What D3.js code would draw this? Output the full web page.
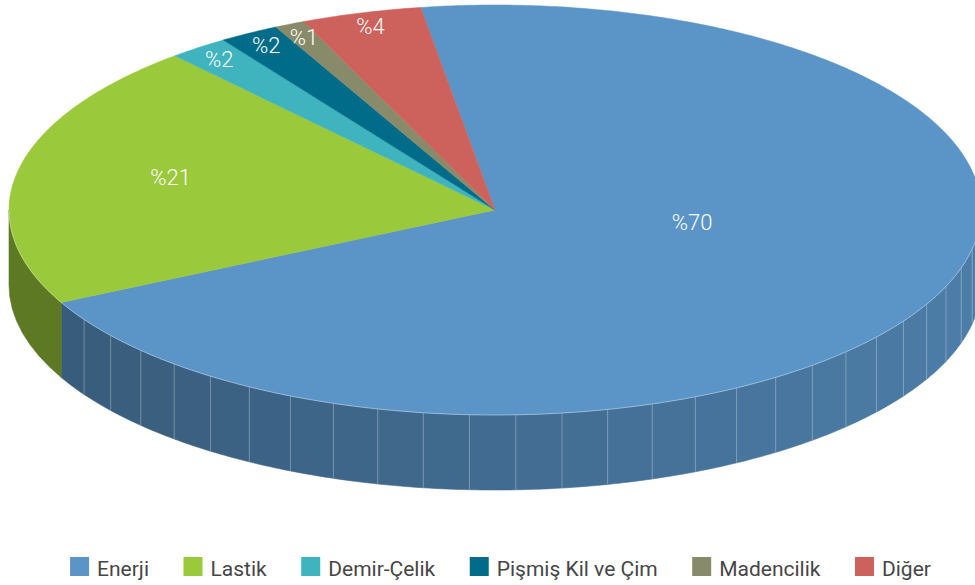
<!DOCTYPE html>
<meta charset="utf-8">
<style>
  body { margin: 0; background: #fff; }
  .label { font-family: Roboto, sans-serif; font-weight: 300; font-size: 22px; fill: #fff; }
  .legend text { font-family: Roboto, sans-serif; font-size: 21px; fill: #464646; }
</style>
<svg width="975" height="585"></svg>
<script src="https://cdn.jsdelivr.net/npm/d3@7"></script>
<script>
var categories = ["Enerji", "Lastik", "Demir-Çelik", "Pişmiş Kil ve Çim", "Madencilik", "Diğer"];
var values = [70, 21, 2, 2, 1, 4];
var labels = ["%70", "%21", "%2", "%2", "%1", "%4"];
var colors = ["#5b95c8", "#9bc93c", "#3fb4be", "#006c8a", "#878b6a", "#cc625b"];

var width = 975, height = 585;
var cx = 495, cy = 210, rx = 486, ry = 205, depth = 75;
var rad = Math.PI / 180;
var start = -8.8 * rad;

var svg = d3.select("svg");

var data = categories.map(function(c, i) {
  return { name: c, value: values[i], label: labels[i], color: colors[i] };
});

var pie = d3.pie()
    .sort(null)
    .value(function(d) { return d.value; })
    .startAngle(start)
    .endAngle(start + 2 * Math.PI);

var arcs = pie(data);

// point on the top ellipse, angle clockwise from 12 o'clock
function px(a, f) { return cx + rx * f * Math.sin(a); }
function py(a, f) { return cy - ry * f * Math.cos(a); }

function shade(c, a) {
  var k = 0.6 + 0.24 * (Math.sin(a) + 1) / 2;
  var r = d3.rgb(c);
  return d3.rgb(r.r * k, r.g * k, r.b * k).formatHex();
}

/* ---------- side walls (front half only) ---------- */
var step = 5.4 * rad;
var side = svg.append("g");
var seams = [];

arcs.forEach(function(d) {
  var a0 = Math.max(d.startAngle, Math.PI / 2),
      a1 = Math.min(d.endAngle, 3 * Math.PI / 2);
  if (a1 <= a0) return;
  var n = (a1 - a0) < 40 * rad ? 1 : Math.round((a1 - a0) / step);
  for (var i = 0; i < n; i++) {
    var t0 = a0 + (a1 - a0) * i / n,
        t1 = a0 + (a1 - a0) * (i + 1) / n;
    var pts = [];
    for (var j = 0; j <= 8; j++) {
      var t = t0 + (t1 - t0) * j / 8;
      pts.push([px(t, 1), py(t, 1)]);
    }
    for (j = 8; j >= 0; j--) {
      t = t0 + (t1 - t0) * j / 8;
      pts.push([px(t, 1), py(t, 1) + depth]);
    }
    var col = n === 1 ? shade(d.data.color, 3 * Math.PI / 2) : shade(d.data.color, (t0 + t1) / 2);
    side.append("path")
        .attr("d", "M" + pts.join("L") + "Z")
        .attr("fill", col)
        .attr("stroke", col)
        .attr("stroke-width", 0.6);
    if (i > 0) seams.push(t0);
  }
});

side.selectAll("line.seam")
  .data(seams)
  .enter()
  .append("line")
    .attr("class", "seam")
    .attr("x1", function(a) { return px(a, 1); })
    .attr("x2", function(a) { return px(a, 1); })
    .attr("y1", function(a) { return py(a, 1); })
    .attr("y2", function(a) { return py(a, 1) + depth; })
    .attr("stroke", "#fff")
    .attr("stroke-opacity", 0.28)
    .attr("stroke-width", 1);

/* ---------- top face ---------- */
function slicePath(d) {
  var n = Math.max(2, Math.ceil((d.endAngle - d.startAngle) / (0.5 * rad)));
  var p = d3.path();
  p.moveTo(cx, cy);
  for (var i = 0; i <= n; i++) {
    var a = d.startAngle + (d.endAngle - d.startAngle) * i / n;
    p.lineTo(px(a, 1), py(a, 1));
  }
  p.closePath();
  return p.toString();
}

svg.append("g")
  .selectAll("path")
  .data(arcs)
  .enter()
  .append("path")
    .attr("d", slicePath)
    .attr("fill", function(d) { return d.data.color; })
    .attr("stroke", function(d) { return d.data.color; })
    .attr("stroke-width", 0.5);

// light rim along the front edge
var rim = d3.path();
for (var k = 0; k <= 180; k++) {
  var a = Math.PI / 2 + Math.PI * k / 180;
  if (k === 0) rim.moveTo(px(a, 1), py(a, 1)); else rim.lineTo(px(a, 1), py(a, 1));
}
svg.append("path")
    .attr("d", rim.toString())
    .attr("fill", "none")
    .attr("stroke", "#fff")
    .attr("stroke-opacity", 0.35)
    .attr("stroke-width", 1);

/* ---------- labels ---------- */
svg.append("g")
  .selectAll("text")
  .data(arcs)
  .enter()
  .append("text")
    .attr("class", "label")
    .attr("text-anchor", "middle")
    .attr("dy", "0.35em")
    .attr("x", function(d) { return labelPos(d)[0]; })
    .attr("y", function(d) { return labelPos(d)[1]; })
    .text(function(d) { return d.data.label; });

function labelPos(d) {
  var span = d.endAngle - d.startAngle;
  var mid = (d.startAngle + d.endAngle) / 2;
  if (d.data.value < 5) return [px(mid, 0.93), py(mid, 0.93)];
  if (d.data.value > 50) { mid -= 0.074 * span; return [px(mid, 0.41), py(mid, 0.41)]; }
  return [px(mid, 0.68), py(mid, 0.68) - 6];
}

/* ---------- legend ---------- */
var legend = svg.append("g").attr("class", "legend");
var items = legend.selectAll("g")
  .data(data)
  .enter()
  .append("g");

items.append("rect")
    .attr("width", 19)
    .attr("height", 19)
    .attr("y", 557)
    .attr("fill", function(d) { return d.color; });

items.append("text")
    .attr("x", 27)
    .attr("y", 576)
    .text(function(d) { return d.name; });

var widths = [];
items.each(function() {
  widths.push(27 + this.querySelector("text").getComputedTextLength());
});
var gap = 34.5;
var total = d3.sum(widths) + gap * (widths.length - 1);
var x0 = 500.5 - total / 2;
items.attr("transform", function(d, i) {
  var x = x0 + d3.sum(widths.slice(0, i)) + gap * i;
  return "translate(" + x + ",0)";
});
</script>
